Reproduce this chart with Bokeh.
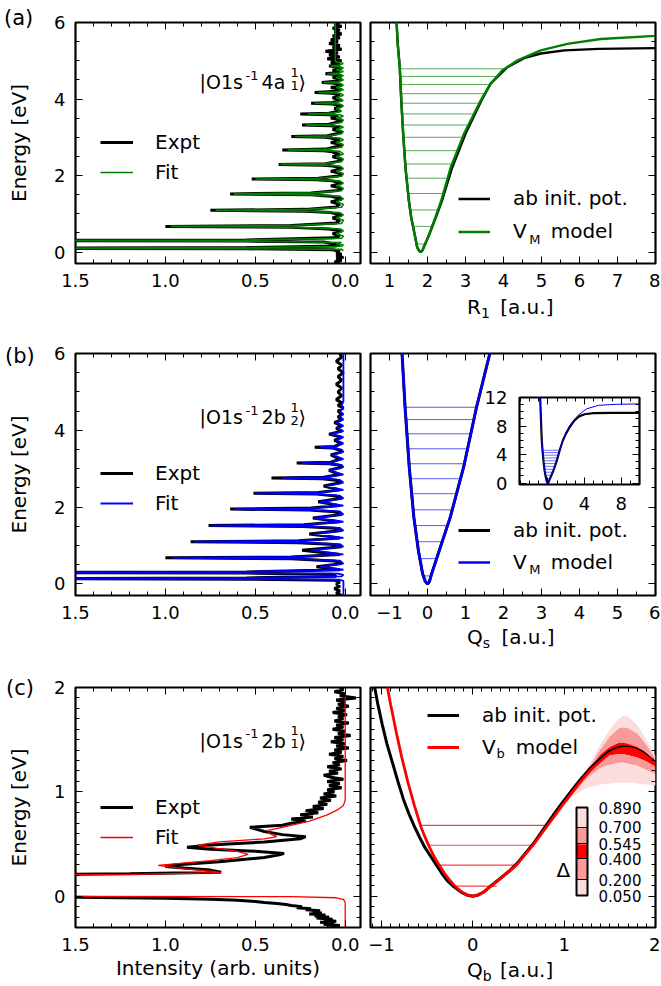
from bokeh.plotting import figure
from bokeh.layouts import column, row
from bokeh.models import (Range1d, FixedTicker, LinearAxis, Label, Legend, LegendItem,
                          ColorBar, LinearColorMapper, CustomJSTickFormatter,
                          PrintfTickFormatter, AllLabels, Div)
from bokeh.embed import file_html
from bokeh.resources import INLINE

FONT = "DejaVu Sans"
GREEN, BLUE, RED = "#008000", "#0000ff", "#ff0000"
PALE, MID = "#fcdcdc", "#f99a9a"

# ---------------- data: spectra as (energy [eV], intensity) ----------------
a_expt = [(-0.30,0.03),(-0.26,0.06),(-0.22,0.02),(-0.18,0.05),(-0.14,0.01),(-0.10,0.05),(-0.06,0.02),(-0.02,0.05),(0.02,0.03),(0.06,0.07),
          (0.085,0.55),(0.10,2.0),(0.115,0.55),(0.16,0.05),(0.20,0.03),(0.23,0.08),(0.26,0.12),
          (0.285,0.55),(0.30,2.0),(0.315,0.55),(0.37,0.06),(0.42,0.03),(0.48,0.07),(0.54,0.02),(0.60,0.09),
          (0.645,0.30),(0.67,1.00),(0.695,0.30),(0.76,0.05),(0.83,0.03),(0.89,0.07),(0.96,0.02),(1.03,0.08),
          (1.065,0.22),(1.09,0.75),(1.115,0.22),(1.18,0.05),(1.25,0.03),(1.31,0.08),(1.38,0.02),(1.46,0.08),
          (1.495,0.19),(1.52,0.64),(1.545,0.19),(1.61,0.04),(1.67,0.02),(1.73,0.08),(1.79,0.02),(1.86,0.07),
          (1.89,0.16),(1.91,0.52),(1.93,0.15),(1.99,0.04),(2.05,0.02),(2.11,0.08),(2.17,0.02),(2.25,0.07),
          (2.27,0.12),(2.29,0.37),(2.31,0.11),(2.37,0.04),(2.43,0.02),(2.49,0.07),(2.55,0.03),(2.63,0.08),
          (2.65,0.12),(2.67,0.35),(2.69,0.11),(2.75,0.05),(2.81,0.02),(2.86,0.08),(2.92,0.03),(2.98,0.08),
          (3.00,0.11),(3.02,0.30),(3.04,0.10),(3.10,0.04),(3.15,0.02),(3.20,0.07),(3.26,0.03),(3.30,0.08),
          (3.32,0.24),(3.34,0.09),(3.40,0.04),(3.45,0.02),(3.50,0.08),(3.56,0.04),(3.59,0.09),
          (3.61,0.25),(3.63,0.09),(3.69,0.03),(3.75,0.06),(3.81,0.02),(3.87,0.07),
          (3.89,0.19),(3.91,0.07),(3.97,0.02),(4.03,0.07),(4.09,0.03),(4.15,0.07),
          (4.17,0.17),(4.20,0.05),(4.25,0.02),(4.30,0.08),(4.35,0.02),(4.41,0.06),
          (4.43,0.13),(4.47,0.04),(4.52,0.02),(4.56,0.07),(4.61,0.02),(4.64,0.05),
          (4.66,0.11),(4.70,0.03),(4.75,0.07),(4.80,0.02),(4.84,0.05),
          (4.86,0.09),(4.90,0.03),(4.95,0.08),(5.00,0.02),(5.05,0.10),(5.10,0.03),(5.15,0.09),(5.20,0.04),
          (5.25,0.11),(5.30,0.02),(5.35,0.07),(5.40,0.03),(5.45,0.09),(5.50,0.04),(5.55,0.08),(5.60,0.03),
          (5.65,0.07),(5.70,0.02),(5.75,0.06),(5.80,0.03),(5.85,0.07),(5.90,0.02),(5.95,0.06),(6.00,0.03)]

a_fit = [(0.03,0.01),(0.07,0.02),(0.085,0.55),(0.10,1.98),(0.115,0.55),(0.15,0.02),(0.19,0.01),(0.22,0.05),(0.25,0.02),
         (0.285,0.55),(0.30,1.98),(0.315,0.55),(0.36,0.02),(0.42,0.01),(0.48,0.05),(0.55,0.01),(0.61,0.03),
         (0.645,0.29),(0.67,0.97),(0.695,0.29),(0.75,0.02),(0.83,0.01),(0.89,0.05),(0.97,0.01),(1.03,0.03),
         (1.065,0.21),(1.09,0.72),(1.115,0.21),(1.17,0.02),(1.25,0.01),(1.31,0.05),(1.39,0.01),(1.46,0.03),
         (1.495,0.18),(1.52,0.62),(1.545,0.18),(1.60,0.02),(1.67,0.01),(1.73,0.05),(1.80,0.01),(1.86,0.03),
         (1.89,0.15),(1.91,0.50),(1.93,0.15),(1.98,0.02),(2.05,0.01),(2.11,0.05),(2.18,0.01),(2.25,0.03),
         (2.27,0.11),(2.29,0.36),(2.31,0.11),(2.36,0.02),(2.43,0.01),(2.49,0.05),(2.56,0.01),(2.63,0.03),
         (2.65,0.10),(2.67,0.32),(2.69,0.10),(2.74,0.02),(2.81,0.01),(2.86,0.05),(2.93,0.01),(2.98,0.03),
         (3.00,0.10),(3.02,0.28),(3.04,0.09),(3.09,0.02),(3.15,0.01),(3.20,0.05),(3.26,0.01),(3.30,0.03),
         (3.32,0.22),(3.34,0.08),(3.39,0.02),(3.45,0.01),(3.50,0.05),(3.55,0.01),(3.59,0.03),
         (3.61,0.21),(3.63,0.07),(3.68,0.02),(3.75,0.05),(3.82,0.01),(3.87,0.03),
         (3.89,0.17),(3.91,0.06),(3.96,0.01),(4.03,0.05),(4.10,0.01),(4.15,0.03),
         (4.17,0.15),(4.19,0.05),(4.24,0.01),(4.30,0.05),(4.36,0.01),(4.41,0.03),
         (4.43,0.12),(4.45,0.04),(4.50,0.01),(4.56,0.05),(4.61,0.01),(4.64,0.03),
         (4.66,0.10),(4.68,0.04),(4.72,0.01),(4.76,0.05),(4.81,0.01),(4.84,0.03),
         (4.86,0.08),(4.88,0.04),(4.93,0.01),(4.98,0.055),(6.00,0.055)]

b_expt = [(-0.30,0.02),(-0.24,0.05),(-0.18,0.03),(-0.12,0.06),(-0.06,0.03),(0.00,0.05),(0.05,0.03),(0.10,0.06),
          (0.125,0.55),(0.14,2.0),(0.155,0.55),(0.20,0.05),(0.25,0.07),
          (0.285,0.55),(0.30,2.0),(0.315,0.55),(0.37,0.03),(0.45,0.16),(0.53,0.02),(0.60,0.06),
          (0.655,0.30),(0.68,1.00),(0.705,0.30),(0.77,0.03),(0.88,0.24),(0.97,0.02),(1.03,0.06),
          (1.075,0.26),(1.10,0.86),(1.125,0.26),(1.20,0.03),(1.30,0.20),(1.39,0.02),(1.45,0.06),
          (1.495,0.23),(1.52,0.76),(1.545,0.23),(1.62,0.03),(1.72,0.18),(1.81,0.02),(1.88,0.06),
          (1.925,0.20),(1.95,0.64),(1.975,0.19),(2.04,0.03),(2.14,0.15),(2.23,0.02),(2.29,0.05),
          (2.34,0.16),(2.36,0.51),(2.38,0.15),(2.45,0.03),(2.55,0.12),(2.64,0.02),(2.70,0.05),
          (2.74,0.13),(2.76,0.41),(2.78,0.12),(2.85,0.03),(2.96,0.09),(3.04,0.02),(3.10,0.04),
          (3.13,0.09),(3.15,0.27),(3.17,0.08),(3.25,0.03),(3.36,0.08),(3.44,0.02),(3.50,0.04),
          (3.54,0.07),(3.56,0.17),(3.58,0.06),(3.66,0.02),(3.74,0.06),(3.82,0.02),
          (3.90,0.09),(3.98,0.02),(4.05,0.05),(4.12,0.02),(4.20,0.06),(4.28,0.02),(4.35,0.04),(4.42,0.02),
          (4.50,0.04),(4.58,0.01),(4.65,0.04),(4.72,0.02),(4.80,0.05),(4.90,0.02),(5.00,0.04),(5.10,0.02),
          (5.20,0.05),(5.30,0.02),(5.40,0.04),(5.50,0.01),(5.60,0.04),(5.70,0.02),(5.80,0.05),(5.90,0.02),(6.00,0.03)]

b_fit = [(-0.30,0.01),(0.08,0.01),(0.11,0.03),(0.125,0.55),(0.14,1.98),(0.155,0.55),(0.20,0.02),(0.24,0.01),(0.27,0.04),
         (0.285,0.55),(0.30,1.98),(0.315,0.55),(0.37,0.01),(0.45,0.14),(0.53,0.01),(0.61,0.03),
         (0.655,0.29),(0.68,0.96),(0.705,0.29),(0.77,0.01),(0.88,0.19),(0.97,0.01),(1.04,0.03),
         (1.075,0.25),(1.10,0.84),(1.125,0.25),(1.20,0.01),(1.30,0.18),(1.39,0.01),(1.46,0.03),
         (1.495,0.22),(1.52,0.75),(1.545,0.22),(1.62,0.01),(1.72,0.17),(1.81,0.01),(1.89,0.03),
         (1.925,0.19),(1.95,0.62),(1.975,0.19),(2.04,0.01),(2.14,0.14),(2.23,0.01),(2.30,0.03),
         (2.34,0.15),(2.36,0.50),(2.38,0.15),(2.45,0.01),(2.55,0.11),(2.64,0.01),(2.71,0.03),
         (2.74,0.11),(2.76,0.35),(2.78,0.11),(2.85,0.01),(2.96,0.09),(3.04,0.01),(3.10,0.02),
         (3.13,0.08),(3.15,0.24),(3.17,0.08),(3.25,0.01),(3.36,0.07),(3.44,0.01),(3.50,0.02),
         (3.54,0.06),(3.56,0.14),(3.58,0.05),(3.66,0.01),(3.74,0.05),(3.82,0.01),
         (3.90,0.08),(3.98,0.01),(4.05,0.04),(4.12,0.01),(4.20,0.05),(4.28,0.01),(4.35,0.03),(4.42,0.01),
         (4.50,0.03),(4.58,0.01),(4.66,0.02),(4.75,0.01),(6.00,0.01)]

c_expt = [(-0.30,0.05),(-0.29,0.10),(-0.28,0.03),(-0.27,0.12),(-0.26,0.06),(-0.25,0.14),(-0.24,0.05),(-0.23,0.12),
          (-0.22,0.07),(-0.21,0.16),(-0.20,0.09),(-0.19,0.17),(-0.18,0.11),(-0.17,0.20),(-0.16,0.13),(-0.15,0.18),
          (-0.14,0.14),(-0.13,0.22),(-0.12,0.19),(-0.11,0.27),(-0.10,0.24),(-0.09,0.30),(-0.08,0.33),(-0.07,0.38),
          (-0.06,0.45),(-0.05,0.50),(-0.04,0.60),(-0.03,0.75),(-0.02,1.00),(-0.01,1.50),(0.00,2.50),
          (0.20,2.50),(0.215,1.20),(0.23,0.69),(0.25,0.75),(0.27,0.90),(0.285,1.00),(0.30,0.95),(0.33,0.70),
          (0.37,0.45),(0.40,0.36),(0.41,0.34),(0.43,0.50),(0.45,0.75),(0.47,0.88),(0.49,0.75),(0.52,0.45),
          (0.55,0.25),(0.57,0.22),(0.59,0.35),(0.62,0.45),(0.66,0.53),(0.68,0.35),(0.70,0.30),(0.72,0.22),
          (0.74,0.30),(0.76,0.18),(0.78,0.25),(0.80,0.15),(0.82,0.22),(0.84,0.12),(0.86,0.18),(0.88,0.10),
          (0.90,0.15),(0.92,0.08),(0.94,0.14),(0.96,0.05),(0.98,0.12),(1.00,0.06),(1.02,0.10),(1.04,0.02),
          (1.06,0.09),(1.08,0.03),(1.10,0.10),(1.12,0.01),(1.14,0.08),(1.16,0.12),(1.18,0.04),(1.20,0.09),
          (1.22,0.02),(1.24,0.10),(1.26,0.03),(1.28,0.07),(1.30,-0.01),(1.32,0.06),(1.34,0.01),(1.36,0.09),
          (1.38,0.02),(1.40,0.06),(1.42,-0.02),(1.44,0.05),(1.46,0.00),(1.48,0.08),(1.50,0.01),(1.52,0.06),
          (1.54,-0.03),(1.56,0.04),(1.58,0.00),(1.60,0.07),(1.62,0.01),(1.64,0.05),(1.66,-0.02),(1.68,0.06),
          (1.70,0.01),(1.72,0.04),(1.74,-0.01),(1.76,0.07),(1.78,0.00),(1.80,0.05),(1.82,-0.02),(1.84,0.04),
          (1.86,0.00),(1.88,0.05),(1.90,-0.06),(1.92,0.03),(1.94,0.00),(1.96,0.06),(1.98,0.01),(2.00,0.03)]

c_fit = [(-0.30,0.00),(-0.06,0.00),(-0.03,0.01),(-0.015,0.05),(-0.005,0.30),(0.00,2.50),(0.20,2.50),(0.21,1.20),
         (0.225,0.69),(0.24,0.75),(0.265,0.90),(0.295,1.04),(0.31,0.95),(0.34,0.75),(0.37,0.60),(0.40,0.54),
         (0.43,0.60),(0.46,0.72),(0.49,0.82),(0.52,0.70),(0.55,0.45),(0.57,0.38),(0.60,0.42),(0.63,0.43),
         (0.66,0.35),(0.72,0.20),(0.78,0.10),(0.83,0.04),(0.87,0.01),(0.92,0.00),(1.91,0.00)]

# ---------------- data: potentials ----------------
a_R_model = [1.18, 1.22, 1.27, 1.31, 1.36, 1.42, 1.51, 1.57, 1.66, 1.73, 1.78, 1.82, 1.86, 1.90, 1.97, 2.05, 2.21,
             2.36, 2.61, 2.96, 3.40, 3.66, 3.97, 4.37, 4.98, 5.68, 6.56, 8.00]
a_V_model = [6.10, 5.40, 4.83, 3.96, 3.09, 2.21, 1.34, 0.91, 0.47, 0.12, 0.03, 0.00, 0.03, 0.12, 0.28, 0.47, 0.91,
             1.34, 2.21, 3.09, 3.96, 4.40, 4.75, 5.01, 5.27, 5.44, 5.57, 5.65]
a_R_abinit = [1.18, 1.22, 1.27, 1.31, 1.36, 1.42, 1.51, 1.57, 1.66, 1.73, 1.78, 1.82, 1.86, 1.90, 1.97, 2.05, 2.22,
              2.38, 2.65, 3.00, 3.42, 3.66, 4.10, 4.54, 4.98, 5.60, 6.50, 8.00]
a_V_abinit = [6.10, 5.40, 4.83, 3.96, 3.09, 2.21, 1.34, 0.91, 0.47, 0.12, 0.03, 0.00, 0.03, 0.12, 0.28, 0.47, 0.91,
              1.34, 2.21, 3.09, 3.96, 4.40, 4.83, 5.07, 5.19, 5.27, 5.31, 5.33]
a_lev_E = [0.21, 0.67, 1.10, 1.53, 1.93, 2.30, 2.65, 3.00, 3.32, 3.61, 3.89, 4.14, 4.38, 4.59, 4.79]
a_lev_x0 = [1.71, 1.62, 1.54, 1.49, 1.44, 1.41, 1.39, 1.37, 1.35, 1.33, 1.31, 1.30, 1.29, 1.28, 1.27]
a_lev_x1 = [1.94, 2.12, 2.28, 2.41, 2.53, 2.65, 2.79, 2.92, 3.08, 3.22, 3.36, 3.50, 3.65, 3.82, 4.00]

b_Q_model = [-0.86, -0.67, -0.59, -0.48, -0.36, -0.24, -0.13, -0.06, 0.00, 0.05, 0.11, 0.31, 0.60, 0.95, 1.29, 1.64,
             2.00, 2.40, 2.90, 3.30, 4.20, 5.50, 7.50, 10.0]
b_V_model = [12.5, 6.00, 4.60, 3.04, 1.74, 0.87, 0.27, 0.07, 0.00, 0.06, 0.27, 0.87, 1.74, 3.04, 4.60, 6.00,
             7.10, 8.10, 8.90, 9.50, 10.4, 10.9, 11.05, 11.1]
b_Q_abinit = [-0.86, -0.67, -0.59, -0.48, -0.36, -0.24, -0.13, -0.06, 0.00, 0.05, 0.11, 0.31, 0.60, 0.95, 1.29, 1.64,
              2.00, 2.40, 2.90, 3.40, 4.00, 5.00, 7.00, 10.0]
b_V_abinit = [12.5, 6.00, 4.60, 3.04, 1.74, 0.87, 0.27, 0.07, 0.00, 0.06, 0.27, 0.87, 1.74, 3.04, 4.60, 6.00,
              7.00, 7.90, 8.80, 9.35, 9.65, 9.80, 9.85, 9.85]
b_lev_E = [0.21, 0.66, 1.10, 1.52, 1.93, 2.35, 2.74, 3.13, 3.52, 3.91, 4.28, 4.60]
b_lev_x0 = [-0.12, -0.21, -0.27, -0.33, -0.38, -0.42, -0.45, -0.49, -0.51, -0.54, -0.57, -0.59]
b_lev_x1 = [0.08, 0.25, 0.39, 0.52, 0.66, 0.77, 0.87, 0.97, 1.06, 1.14, 1.22, 1.29]

c_Q_model = [-0.95, -0.90, -0.84, -0.78, -0.71, -0.64, -0.57, -0.53, -0.48, -0.43, -0.37, -0.31, -0.25, -0.20,
             -0.12, -0.06, 0.00, 0.06, 0.12, 0.20, 0.27, 0.34, 0.41, 0.48, 0.57, 0.66, 0.74, 0.82, 0.90, 0.97,
             1.08, 1.19, 1.27, 1.35, 1.43, 1.50, 1.58, 1.65, 1.72, 1.79, 1.86, 1.93, 2.00]
c_V_model = [2.07, 1.84, 1.58, 1.34, 1.09, 0.87, 0.67, 0.58, 0.48, 0.39, 0.30, 0.22, 0.15, 0.10,
             0.04, 0.012, 0.00, 0.012, 0.04, 0.10, 0.145, 0.195, 0.245, 0.30, 0.395, 0.49, 0.585, 0.68, 0.775, 0.86,
             0.985, 1.11, 1.19, 1.26, 1.32, 1.37, 1.405, 1.42, 1.415, 1.40, 1.365, 1.32, 1.27]
c_Q_abinit = [-1.08, -1.04, -0.99, -0.94, -0.88, -0.82, -0.76, -0.70, -0.64, -0.58, -0.52, -0.46, -0.40, -0.34,
              -0.28, -0.22, -0.12, -0.06, 0.00, 0.06, 0.12, 0.20, 0.27, 0.34, 0.41, 0.48, 0.57, 0.66, 0.74, 0.82,
              0.90, 0.97, 1.08, 1.19, 1.27, 1.35, 1.43, 1.50, 1.58, 1.65, 1.72, 1.79, 1.86, 1.93, 2.00]
c_V_abinit = [2.03, 1.84, 1.64, 1.46, 1.28, 1.10, 0.93, 0.79, 0.67, 0.56, 0.46, 0.38, 0.30, 0.22,
              0.15, 0.10, 0.035, 0.01, 0.00, 0.012, 0.04, 0.10, 0.15, 0.20, 0.25, 0.31, 0.405, 0.50, 0.60, 0.70,
              0.80, 0.885, 1.01, 1.13, 1.21, 1.28, 1.34, 1.39, 1.42, 1.43, 1.425, 1.41, 1.38, 1.33, 1.28]
c_lev_E = [0.096, 0.297, 0.488, 0.679]
c_lev_x0 = [-0.20, -0.37, -0.48, -0.57]
c_lev_x1 = [0.26, 0.49, 0.67, 0.83]

c_delta = [0.05, 0.2, 0.4, 0.545, 0.7, 0.89]
c_band_Q = [0.95, 1.10, 1.25, 1.40, 1.50, 1.60, 1.65, 1.70, 1.80, 1.90, 2.00]
c_band_d005 = [0.84, 1.02, 1.22, 1.46, 1.60, 1.70, 1.73, 1.72, 1.64, 1.50, 1.34]
c_band_d020 = [0.84, 1.01, 1.20, 1.41, 1.53, 1.61, 1.62, 1.61, 1.56, 1.45, 1.32]
c_band_d040 = [0.83, 1.00, 1.18, 1.36, 1.43, 1.47, 1.47, 1.46, 1.43, 1.37, 1.29]
c_band_d0545 = [0.83, 0.99, 1.16, 1.31, 1.35, 1.36, 1.36, 1.35, 1.33, 1.29, 1.24]
c_band_d070 = [0.82, 0.98, 1.13, 1.23, 1.26, 1.28, 1.28, 1.27, 1.25, 1.21, 1.17]
c_band_d089 = [0.82, 0.96, 1.04, 1.07, 1.08, 1.09, 1.09, 1.09, 1.08, 1.07, 1.06]
band_colors = [PALE, MID, RED, MID, PALE]


def E_of(pts):
    return [p[0] for p in pts]


def I_of(pts):
    return [p[1] for p in pts]


def trange(lo, hi, step):
    n = int(round((hi - lo) / step))
    return [round(lo + k * step, 4) for k in range(n + 1)]


def blank_fmt():
    return CustomJSTickFormatter(code="return ''")


def minus_fmt():
    return CustomJSTickFormatter(code="return tick < 0 ? '\u2212' + Math.abs(tick) : '' + tick;")


def style_axis(ax, ticker, fmt, show, size="18px", standoff=10):
    ax.ticker = ticker
    ax.formatter = fmt if show else blank_fmt()
    ax.axis_line_color = None
    ax.major_tick_in = 7
    ax.major_tick_out = 0
    ax.minor_tick_in = 4
    ax.minor_tick_out = 0
    ax.major_tick_line_color = "black"
    ax.minor_tick_line_color = "black"
    ax.major_label_text_font = FONT
    ax.major_label_text_color = "black"
    ax.major_label_text_font_size = size if show else "0px"
    ax.major_label_standoff = standoff if show else 0
    ax.axis_label_text_font = FONT
    ax.axis_label_text_font_size = "20px"
    ax.axis_label_text_font_style = "normal"
    ax.axis_label_text_color = "black"


def make_fig(w, h, xr, yr, mbl, mbr, mbt, mbb):
    p = figure(width=w, height=h, x_range=Range1d(*xr), y_range=Range1d(*yr),
               output_backend="svg", toolbar_location=None, tools="",
               min_border_left=mbl, min_border_right=mbr, min_border_top=mbt, min_border_bottom=mbb)
    p.xgrid.visible = False
    p.ygrid.visible = False
    p.outline_line_color = "black"
    p.outline_line_width = 2.2
    p.outline_line_alpha = 1.0
    p.background_fill_color = "white"
    p.border_fill_color = "white"
    return p


def set_axes(p, xt, xm, yt, ym, xfmt, yfmt, xshow, yshow, size="18px", standoff=10):
    xtk = FixedTicker(ticks=xt, minor_ticks=xm)
    ytk = FixedTicker(ticks=yt, minor_ticks=ym)
    bx = p.xaxis[0]
    ly = p.yaxis[0]
    style_axis(bx, xtk, xfmt, xshow, size, standoff)
    style_axis(ly, ytk, yfmt, yshow, size, standoff)
    top = LinearAxis()
    style_axis(top, xtk, None, False)
    p.add_layout(top, "above")
    rgt = LinearAxis()
    style_axis(rgt, ytk, None, False)
    p.add_layout(rgt, "right")
    return bx, ly


def lab(p, x, y, text, size, dx=0, dy=0):
    p.add_layout(Label(x=x, y=y, x_offset=dx, y_offset=dy, text=text, text_font=FONT,
                       text_font_size=f"{size}px", text_color="black", text_align="left",
                       text_baseline="alphabetic"))


def state(p, x, y, mid, sub):
    lab(p, x, y, "|O1s", 19)
    lab(p, x, y, "-1", 13, dx=46, dy=7)
    lab(p, x, y, mid, 19, dx=62)
    lab(p, x, y, "1", 13, dx=91, dy=10)
    lab(p, x, y, sub, 13, dx=91, dy=-3)
    lab(p, x, y, "\u27e9", 19, dx=99)


def add_legend(p, items, loc, gw, standoff, rowh):
    leg = Legend(items=[LegendItem(label=t, renderers=[r]) for t, r in items], location=loc,
                 border_line_color=None, background_fill_alpha=0, padding=0, margin=0, spacing=0,
                 glyph_width=gw, glyph_height=rowh, label_height=rowh, label_standoff=standoff,
                 label_text_font=FONT, label_text_font_size="20px", label_text_color="black")
    p.add_layout(leg)


def text_div(html, left, top, size, w, h):
    span = (f'<span style="font-family:\'DejaVu Sans\';font-size:{size}px;line-height:{size}px;'
            f'color:#000;white-space:nowrap">{html}</span>')
    return Div(text=span, width=w, height=h, margin=0,
               styles={"position": "absolute", "left": f"{left}px", "top": f"{top}px",
                       "font-family": "DejaVu Sans", "font-size": f"{size}px",
                       "line-height": f"{size}px", "color": "#000"})


def sub(t, mr):
    return (f'<span style="font-size:14px;line-height:14px;position:relative;top:4px;'
            f'margin-right:{mr}px">{t}</span>')


LX = [0, 0.5, 1.0, 1.5]
LXm = trange(0, 1.5, 0.1)
Y6 = [0, 2, 4, 6]
Y6m = trange(0, 6, 0.5)
Y2 = [0, 1, 2]
Y2m = trange(-0.2, 2.0, 0.1)
F1 = PrintfTickFormatter(format="%.1f")
FD = PrintfTickFormatter(format="%d")
LEFT_XR = (1.5, -0.085)

# ================= row (a) =================
pa = make_fig(365, 339, LEFT_XR, (-0.3, 6), 75, 5, 22, 76)
ra1 = pa.line(I_of(a_expt), E_of(a_expt), line_color="black", line_width=3)
ra2 = pa.line(I_of(a_fit), E_of(a_fit), line_color=GREEN, line_width=1.6)
bx, ly = set_axes(pa, LX, LXm, Y6, Y6m, F1, FD, True, True)
ly.axis_label = "Energy [eV]"
ly.axis_label_standoff = 20
add_legend(pa, [("Expt", ra1), ("Fit", ra2)], (25, 76), 33, 22, 30)
state(pa, 0.81, 4.44, "4a", "1")

qa = make_fig(295, 339, (0.5, 8), (-0.3, 6), 5, 5, 22, 76)
qa.segment(x0=a_lev_x0, y0=a_lev_E, x1=a_lev_x1, y1=a_lev_E, line_color=GREEN, line_alpha=0.65, line_width=1)
sa1 = qa.line(a_R_abinit, a_V_abinit, line_color="black", line_width=2.4)
sa2 = qa.line(a_R_model, a_V_model, line_color=GREEN, line_width=2.4)
set_axes(qa, list(range(1, 9)), trange(0.5, 8, 0.5), Y6, Y6m, FD, FD, True, False)
add_legend(qa, [("ab init. pot.", sa1), ("V\u2003\u2009model", sa2)], (88, 15.5), 32, 23, 33)
lab(qa, 4.68, 0.34, "M", 13)

# ================= row (b) =================
pb = make_fig(365, 334, LEFT_XR, (-0.3, 6), 75, 5, 14, 78)
rb1 = pb.line(I_of(b_expt), E_of(b_expt), line_color="black", line_width=3)
rb2 = pb.line(I_of(b_fit), E_of(b_fit), line_color=BLUE, line_width=1.8)
bx, ly = set_axes(pb, LX, LXm, Y6, Y6m, F1, FD, True, True)
ly.axis_label = "Energy [eV]"
ly.axis_label_standoff = 20
add_legend(pb, [("Expt", rb1), ("Fit", rb2)], (25, 77), 33, 22, 30)
state(pb, 0.81, 4.34, "2b", "2")

qb = make_fig(295, 334, (-1.5, 6), (-0.3, 6), 5, 5, 14, 78)
qb.segment(x0=b_lev_x0, y0=b_lev_E, x1=b_lev_x1, y1=b_lev_E, line_color=BLUE, line_alpha=0.65, line_width=1)
sb1 = qb.line(b_Q_abinit, b_V_abinit, line_color="black", line_width=3)
sb2 = qb.line(b_Q_model, b_V_model, line_color=BLUE, line_width=2.5)
set_axes(qb, list(range(-1, 7)), trange(-1.5, 6, 0.5), Y6, Y6m, minus_fmt(), FD, True, False)
add_legend(qb, [("ab init. pot.", sb1), ("V\u2003\u2009model", sb2)], (88, 17), 32, 23, 32)
lab(qb, 2.68, 0.38, "M", 13)

# inset of (b), placed over the (b) potential panel
ib = figure(width=161, height=133, x_range=Range1d(-3.1, 10), y_range=Range1d(-0.2, 12),
            output_backend="svg", toolbar_location=None, tools="",
            min_border_left=38, min_border_right=3, min_border_top=12, min_border_bottom=34,
            styles={"position": "absolute", "left": "481px", "top": "385px"})
ib.xgrid.visible = False
ib.ygrid.visible = False
ib.outline_line_color = "black"
ib.outline_line_width = 2.2
ib.background_fill_color = "white"
ib.border_fill_alpha = 0
ib.segment(x0=b_lev_x0, y0=b_lev_E, x1=b_lev_x1, y1=b_lev_E, line_color=BLUE, line_alpha=0.7, line_width=0.8)
ib.line(b_Q_abinit, b_V_abinit, line_color="black", line_width=2.2)
ib.line(b_Q_model, b_V_model, line_color=BLUE, line_width=1)
set_axes(ib, [0, 4, 8], trange(-3, 10, 1), [0, 4, 8, 12], trange(0, 12, 1), FD, FD, True, True,
         size="18px", standoff=12)

# ================= row (c) =================
pc = make_fig(365, 310, LEFT_XR, (-0.3, 2), 75, 5, 14, 56)
rc1 = pc.line(I_of(c_expt), E_of(c_expt), line_color="black", line_width=3)
rc2 = pc.line(I_of(c_fit), E_of(c_fit), line_color=RED, line_width=1.3)
bx, ly = set_axes(pc, LX, LXm, Y2, Y2m, F1, FD, True, True)
ly.axis_label = "Energy [eV]"
ly.axis_label_standoff = 20
bx.axis_label = "Intensity (arb. units)"
bx.axis_label_standoff = 2
add_legend(pc, [("Expt", rc1), ("Fit", rc2)], (25, 75), 33, 22, 30)
state(pc, 0.81, 1.49, "2b", "1")

qc = make_fig(295, 310, (-1.12, 2), (-0.3, 2), 5, 5, 14, 56)
band_curves = [c_band_d005, c_band_d020, c_band_d040, c_band_d0545, c_band_d070, c_band_d089]
for k in range(5):
    qc.varea(x=c_band_Q, y1=band_curves[k], y2=band_curves[k + 1], fill_color=band_colors[k], fill_alpha=1.0)
qc.segment(x0=c_lev_x0, y0=c_lev_E, x1=c_lev_x1, y1=c_lev_E, line_color=RED, line_alpha=0.75, line_width=1.2)
sc1 = qc.line(c_Q_abinit, c_V_abinit, line_color="black", line_width=3)
sc2 = qc.line(c_Q_model, c_V_model, line_color=RED, line_width=2.8)
set_axes(qc, [-1, 0, 1, 2], trange(-1.1, 2.0, 0.1), Y2, Y2m, minus_fmt(), FD, True, False)
add_legend(qc, [("ab init. pot.", sc1), ("V\u2003model", sc2)], (57, 164), 32, 23, 32)
lab(qc, 0.26, 1.365, "b", 13)
lab(qc, 0.915, 0.25, "\u0394", 20)

pal = []
for k in range(84):
    v = 0.05 + (k + 0.5) * 0.01
    idx = 0
    for j in range(5):
        if c_delta[j] <= v < c_delta[j + 1]:
            idx = j
    pal.append(band_colors[idx])
mapper = LinearColorMapper(palette=pal, low=c_delta[0], high=c_delta[-1])
cb = ColorBar(color_mapper=mapper, location=(206, 32), width=11, height=88, padding=0, margin=0,
              orientation="vertical", ticker=FixedTicker(ticks=c_delta),
              formatter=PrintfTickFormatter(format="%.3f"), major_label_text_font=FONT,
              major_label_text_font_size="15px", major_label_text_color="black",
              major_label_policy=AllLabels(),
              major_tick_in=11, major_tick_out=0, major_tick_line_color="black", major_tick_line_width=1,
              minor_tick_line_color=None, bar_line_color="black", bar_line_width=2,
              border_line_color=None, background_fill_alpha=0, label_standoff=11)
qc.add_layout(cb)

layout = column(row(pa, qa), row(pb, qb), row(pc, qc))

# texts outside the plot frames (panel tags and sub-scripted axis titles)
divs = [
    text_div("(a)", 4, 8, 21, 40, 24),
    text_div("(b)", 5, 346, 21, 40, 24),
    text_div("(c)", 6, 678, 21, 40, 24),
    text_div("R" + sub("1", 4) + " [a.u.]", 467, 297, 20, 120, 24),
    text_div("Q" + sub("s", 5) + " [a.u.]", 467, 627, 20, 120, 24),
    text_div("Q" + sub("b", 2) + " [a.u.]", 467, 960, 20, 120, 24),
]

open("out.html", "w").write(file_html([layout, ib] + divs, INLINE))
